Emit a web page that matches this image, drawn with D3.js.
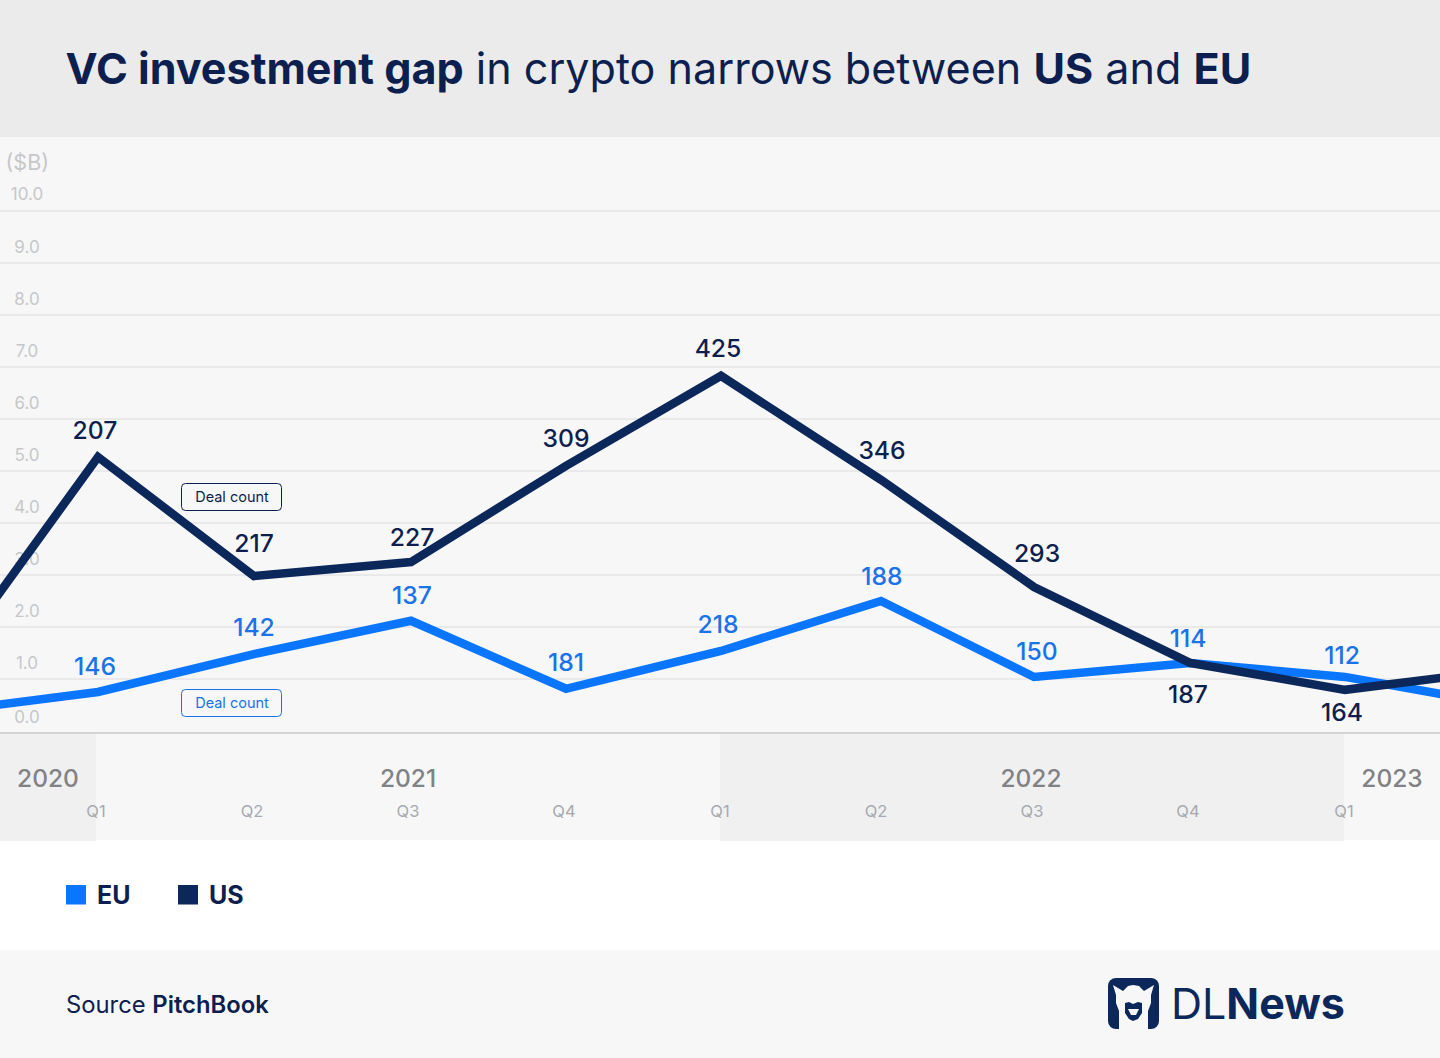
<!DOCTYPE html>
<html><head><meta charset="utf-8">
<script src="https://cdn.jsdelivr.net/npm/d3@7/dist/d3.min.js"></script>
<style>
html,body{margin:0;padding:0;background:#fff}
svg{display:block;font-family:Inter,sans-serif}
</style></head><body><svg id="c" width="1440" height="1058"></svg>
<script>
const quarters = ["2019Q4","2020Q1","2020Q2","2020Q3","2020Q4","2021Q1","2021Q2","2021Q3","2021Q4","2022Q1","2022Q2"];
const tickLabels = ["Q1","Q2","Q3","Q4","Q1","Q2","Q3","Q4","Q1"];
const usValues = [1.12,5.26,2.97,3.24,5.09,6.82,4.82,2.76,1.30,0.79,1.16];
const euValues = [0.38,0.75,1.47,2.11,0.81,1.53,2.49,1.03,1.30,1.03,0.51];
const usDeals = [null,207,217,227,309,425,346,293,187,164,null];
const euDeals = [null,146,142,137,181,218,188,150,114,112,null];
const yTicks = [0,1,2,3,4,5,6,7,8,9,10];
const yearLabels = ["2020","2021","2022","2023"];
const legendItems = ["EU","US"];

const NAVY="#0c2759", TEXT="#0d1f4f", BLUE="#0a75ff", LBLUE="#1a73e8";
const svg=d3.select("#c");
const xBase=d3.scalePoint().domain(quarters).range([-58,1502]);
const nudge=[0,0,0,1,0,-1,3,0,0,-1,0];
const x=q=>xBase(q)+nudge[quarters.indexOf(q)];
const y=d3.scaleLinear().domain([0,1,10]).range([732.5,678.5,210.5]);

function rect(x0,y0,w,h,f){svg.append("rect").attr("x",x0).attr("y",y0).attr("width",w).attr("height",h).attr("fill",f);}
rect(0,0,1440,137,"#ebebec");
rect(0,137,1440,703,"#f7f7f8");
rect(0,733,96,108,"#f0f0f1");
rect(720,733,624,108,"#f0f0f1");
rect(0,950,1440,108,"#f7f7f8");

// title
const t=svg.append("text").attr("x",65.5).attr("y",83.5).attr("font-size",43.1).attr("fill",TEXT);
[["VC investment gap",700],[" in crypto narrows between ",400],["US",700],[" and ",400],["EU",700]].forEach(([s,w])=>t.append("tspan").attr("font-weight",w).text(s));

// y axis
const axis=d3.axisLeft(y).tickValues(yTicks).tickFormat(d3.format(".1f")).tickSize(-1440);
const ag=svg.append("g").call(axis);
ag.select(".domain").remove();
ag.selectAll(".tick line").attr("x1",0).attr("x2",1440).attr("stroke",d=>d===0?"#c9c9cb":"#dcdcde").attr("stroke-width",d=>d===0?1.5:1);
ag.selectAll(".tick text").attr("x",27).attr("dy",0).attr("y",d=>d===10?-15.5:-14.5).attr("dominant-baseline","middle").attr("text-anchor","middle")
  .attr("font-family","Inter").attr("font-size",17).attr("fill","#c6c7c9");
svg.append("text").attr("x",5.5).attr("y",170).attr("font-size",21.5).attr("fill","#c6c7c9").text("($B)");

// lines
const line=d3.line().x((d,i)=>x(quarters[i])).y(d=>y(d));
[[euValues,BLUE],[usValues,NAVY]].forEach(([v,c])=>{
  svg.append("path").datum(v).attr("d",line).attr("fill","none").attr("stroke",c).attr("stroke-width",8.5).attr("stroke-linejoin","miter");
});

// value labels
const labelDx=[0,-3,0,1,0,-3,1,3,-2,-3,0];
const usDy=[0,-27,-33,-25,-28,-28,-30,-34,31,22,0].map(d=>d+2.5);
const euDy=[0,-26,-27,-26,-27,-27,-25,-26,-25,-22,0].map(d=>d+2.5);
function labels(vals,deals,dys,col){
  svg.append("g").selectAll("text").data(deals.map((d,i)=>({d,i})).filter(o=>o.d!==null)).join("text")
   .attr("x",o=>x(quarters[o.i])+labelDx[o.i]).attr("y",o=>y(vals[o.i])+dys[o.i]).attr("dominant-baseline","middle")
   .attr("text-anchor","middle").attr("font-size",24.7).attr("font-weight",500).attr("fill",col).text(o=>o.d);
}
labels(usValues,usDeals,usDy,TEXT);
labels(euValues,euDeals,euDy,LBLUE);

// deal count tags
[[484,TEXT],[690,LBLUE]].forEach(([yy,c])=>{
  svg.append("rect").attr("x",181.5).attr("y",yy-.5).attr("width",100).attr("height",27).attr("rx",4).attr("fill","#f7f7f8").attr("stroke",c).attr("stroke-width",1);
  svg.append("text").attr("x",232).attr("y",yy+14).attr("dominant-baseline","middle").attr("text-anchor","middle").attr("font-size",14.5).attr("fill",c).text("Deal count");
});

// x ticks
const qx=quarters.slice(1,10);
svg.append("g").selectAll("text").data(tickLabels).join("text")
 .attr("x",(d,i)=>xBase(qx[i])-2).attr("y",812).attr("dominant-baseline","middle").attr("text-anchor","middle")
 .attr("font-size",16.5).attr("fill","#a6a9b0").text(d=>d);
const yearX=[48,408,1031,1392];
svg.append("g").selectAll("text").data(yearLabels).join("text")
 .attr("x",(d,i)=>yearX[i]).attr("y",780).attr("dominant-baseline","middle").attr("text-anchor","middle")
 .attr("font-size",24.5).attr("font-weight",500).attr("fill","#808285").text(d=>d);

// legend
[[66,BLUE],[178,NAVY]].forEach(([lx,c],i)=>{
  rect(lx,885,20,19.5,c);
  svg.append("text").attr("x",lx+31).attr("y",904).attr("font-size",25).attr("font-weight",700).attr("fill",TEXT).text(legendItems[i]);
});

// source
const s=svg.append("text").attr("x",66).attr("y",1012.5).attr("font-size",23.8).attr("fill",TEXT);
s.append("tspan").text("Source ");
s.append("tspan").attr("font-weight",600).text("PitchBook");

// logo
const lg=svg.append("g").attr("transform","translate(1108,978)");
lg.append("rect").attr("width",51).attr("height",51).attr("rx",8).attr("fill",NAVY);
lg.append("path").attr("d","M5,7L15,13L20,8L25,7L31,8L36,13L46,7L43,17L43,25L40,33L40,51L11,51L11,33L8,25L8,17Z").attr("fill","#f7f7f8");
lg.append("path").attr("d","M17,25L21,24L25,26L30,24L34,25L34,35L30,41L25,43L21,41L17,35Z").attr("fill",NAVY);
lg.append("path").attr("d","M20,31L31,31L28,37L23,37Z").attr("fill","#f7f7f8");
const lt=svg.append("text").attr("x",1171).attr("y",1019).attr("font-size",43).attr("fill",NAVY);
lt.append("tspan").text("DL");
lt.append("tspan").attr("font-weight",700).text("News");
</script></body></html>
